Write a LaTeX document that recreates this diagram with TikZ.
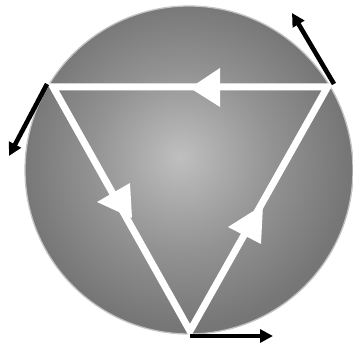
\documentclass[tikz,border=0pt]{standalone}
\usetikzlibrary{arrows.meta}
\definecolor{gin}{HTML}{BFBFBF}
\definecolor{gmid}{HTML}{929292}
\definecolor{gout}{HTML}{767676}
\definecolor{rimcol}{HTML}{C4C4C4}
\pgfdeclareradialshading{ballshade}{\pgfpoint{-1.4bp}{2bp}}{color(0bp)=(gin); color(14bp)=(gmid); color(25bp)=(gout); color(50bp)=(gout)}
\tikzset{
  edgeline/.style={white, line width=7pt, line join=miter},
  whitehead/.style={fill=white, draw=none},
  blackarrow/.style={black, line width=4.6pt, -{Triangle[length=13pt,width=13pt]}},
}
\begin{document}
\begin{tikzpicture}[x=1pt,y=-1pt]
\useasboundingbox (0,0) rectangle (353,347);
% sphere
\shade[shading=ballshade] (189,170) circle [radius=164pt];
\draw[rimcol, line width=1.3pt] (189,170) circle [radius=164pt];
% triangle vertices
\coordinate (tl) at (53,87);
\coordinate (tr) at (327.5,87);
\coordinate (b) at (190,331);
% outer corners
\coordinate (tlo) at (47,84);
\coordinate (tro) at (334,84);
\coordinate (bo) at (190,336);
% ends of black arrows
\coordinate (tlend) at (9,156);
\coordinate (trend) at (292,13);
\coordinate (bend) at (273,336);
% white triangle
\draw[edgeline] (tl) -- (tr) -- (b) -- cycle;
% white arrowheads
\fill[whitehead] (190,88) -- (220,68) -- (220,107) -- cycle;
\fill[whitehead] (97,202) -- (130,183) -- (132,218) -- cycle;
\fill[whitehead] (228,227) -- (261,244) -- (263,205) -- cycle;
% black arrows
\draw[blackarrow] (tro) -- (trend);
\draw[blackarrow] (tlo) -- (tlend);
\draw[blackarrow] (bo) -- (bend);
\end{tikzpicture}
\end{document}
